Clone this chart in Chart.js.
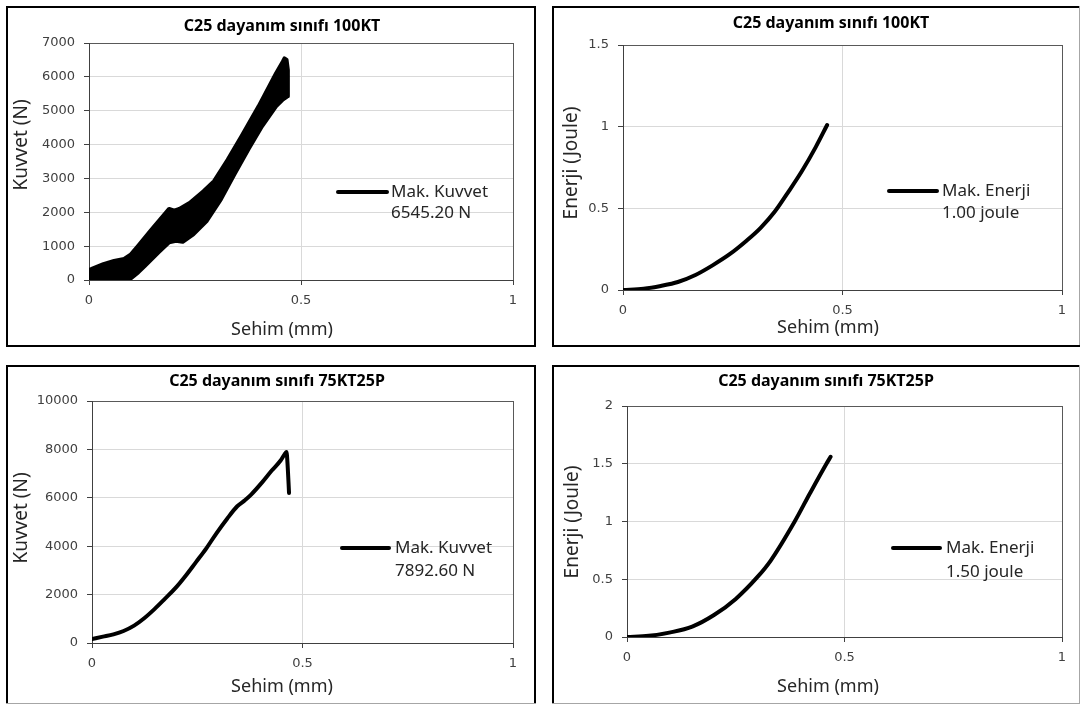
<!DOCTYPE html>
<html>
<head>
<meta charset="utf-8">
<script src="https://cdn.jsdelivr.net/npm/chart.js@4.4.0/dist/chart.umd.min.js"></script>
<style>
  html, body { margin: 0; padding: 0; background: #fff; }
  body { width: 1080px; height: 704px; position: relative; overflow: hidden; }
  canvas { position: absolute; }
</style>
</head>
<body>
<canvas id="kt100Force" width="530" height="341" style="left:6px;top:6px"></canvas>
<canvas id="kt100Energy" width="528" height="341" style="left:552px;top:6px"></canvas>
<canvas id="kt75Force" width="530" height="339" style="left:6px;top:365px"></canvas>
<canvas id="kt75Energy" width="528" height="339" style="left:552px;top:365px"></canvas>
<script>
// Shared x axis (Sehim, mm)
const xTicks = [0, 0.5, 1];

// 100KT force record is very noisy, so it is kept as its upper and lower envelope
const kt100BandUpperX = [0, 0.005, 0.034, 0.059, 0.083, 0.099, 0.116, 0.148, 0.172, 0.189, 0.201, 0.213, 0.238, 0.270, 0.295, 0.327, 0.360, 0.400, 0.441, 0.457, 0.461, 0.466, 0.469];
const kt100BandUpperY = [300, 320, 470, 560, 620, 760, 1010, 1500, 1850, 2100, 2050, 2100, 2280, 2620, 2920, 3550, 4250, 5130, 6100, 6450, 6545, 6500, 6200];
const kt100BandLowerX = [0, 0.083, 0.100, 0.116, 0.132, 0.164, 0.189, 0.205, 0.221, 0.246, 0.278, 0.311, 0.343, 0.376, 0.408, 0.441, 0.457, 0.469];
const kt100BandLowerY = [0, 0, 60, 225, 420, 815, 1110, 1160, 1130, 1350, 1750, 2380, 3120, 3860, 4540, 5130, 5330, 5430];
const kt100ForceTicks = [0, 1000, 2000, 3000, 4000, 5000, 6000, 7000];
const kt100ForceKey = ['Mak. Kuvvet', '6545.20 N'];

// 100KT energy
const kt100EnergyX = [0, 0.047, 0.086, 0.125, 0.165, 0.204, 0.243, 0.282, 0.313, 0.345, 0.376, 0.408, 0.439, 0.465];
const kt100EnergyY = [0, 0.008, 0.025, 0.049, 0.092, 0.151, 0.219, 0.303, 0.379, 0.477, 0.598, 0.73, 0.875, 1.01];
const kt100EnergyTicks = [0, 0.5, 1, 1.5];
const kt100EnergyKey = ['Mak. Enerji', '1.00 joule'];

// 75KT25P force
const kt75ForceX = [0, 0.026, 0.051, 0.075, 0.1, 0.124, 0.149, 0.173, 0.198, 0.223, 0.247, 0.272, 0.296, 0.321, 0.345, 0.362, 0.378, 0.403, 0.427, 0.448, 0.458, 0.462, 0.465, 0.468];
const kt75ForceY = [166, 262, 359, 497, 718, 1022, 1409, 1823, 2265, 2790, 3343, 3923, 4544, 5138, 5650, 5884, 6133, 6616, 7127, 7541, 7817, 7893, 7237, 6200];
const kt75ForceTicks = [0, 2000, 4000, 6000, 8000, 10000];
const kt75ForceKey = ['Mak. Kuvvet', '7892.60 N'];

// 75KT25P energy
const kt75EnergyX = [0, 0.05, 0.1, 0.15, 0.2, 0.25, 0.3, 0.33, 0.3855, 0.42, 0.4585, 0.468];
const kt75EnergyY = [0, 0.01, 0.04, 0.09, 0.19, 0.33, 0.52, 0.66, 1.0, 1.24, 1.5, 1.56];
const kt75EnergyTicks = [0, 0.5, 1, 1.5, 2];
const kt75EnergyKey = ['Mak. Enerji', '1.50 joule'];

const pts = (xs, ys) => xs.map((x, i) => ({ x, y: ys[i] }));

// Excel-like frame, titles and the in-plot key
const excelText = {
  id: 'excelText',
  afterDraw(chart, args, o) {
    const ctx = chart.ctx;
    const w = chart.width, h = chart.height;
    ctx.save();

    // panel frame
    const side = (color, lw, x1, y1, x2, y2) => {
      ctx.strokeStyle = color; ctx.lineWidth = lw;
      ctx.beginPath(); ctx.moveTo(x1, y1); ctx.lineTo(x2, y2); ctx.stroke();
    };
    side('#000', 2, 0, 1, w, 1);
    side('#000', 2, 1, 0, 1, h);
    if (o.cutRight) side('#a6a6a6', 1, w - 0.5, 0, w - 0.5, h);
    else side('#000', 2, w - 1, 0, w - 1, h);
    if (o.cutBottom) side('#a6a6a6', 1, 0, h - 0.5, w, h - 0.5);
    else side('#000', 2, 0, h - 1, w, h - 1);

    ctx.textAlign = 'center';
    ctx.textBaseline = 'middle';
    ctx.fillStyle = '#000';
    ctx.font = 'bold 16px "Noto Sans"';
    ctx.fillText(o.title[0], o.title[1], o.title[2]);

    ctx.fillStyle = '#262626';
    ctx.font = '18px "Noto Sans"';
    ctx.fillText(o.xTitle[0], o.xTitle[1], o.xTitle[2]);

    ctx.save();
    ctx.translate(o.yTitle[1], o.yTitle[2]);
    ctx.rotate(-Math.PI / 2);
    ctx.font = '19px "Noto Sans"';
    ctx.fillText(o.yTitle[0], 0, 0);
    ctx.restore();

    // key: line sample + two text lines
    const k = o.key;
    ctx.strokeStyle = '#000';
    ctx.lineWidth = 4;
    ctx.lineCap = 'round';
    ctx.beginPath(); ctx.moveTo(k.from, k.y); ctx.lineTo(k.to, k.y); ctx.stroke();
    ctx.textAlign = 'left';
    ctx.fillStyle = '#262626';
    ctx.font = '17px "Noto Sans"';
    k.lines.forEach((t, i) => ctx.fillText(t, k.textX, k.y + i * k.gap));
    ctx.restore();
  }
};

const makeChart = (id, datasets, yTicks, padding, text) => {
  const yMax = yTicks[yTicks.length - 1];
  new Chart(document.getElementById(id), {
    type: 'scatter',
    data: { datasets },
    options: {
      responsive: false,
      animation: false,
      events: [],
      layout: { padding },
      plugins: { legend: { display: false }, tooltip: { enabled: false }, excelText: text },
      scales: {
        x: {
          type: 'linear', min: 0, max: 1,
          afterBuildTicks: s => { s.ticks = xTicks.map(v => ({ value: v })); },
          afterFit: s => { s.height = 32; },
          grid: { color: c => c.tick && c.tick.value === 1 ? '#595959' : '#d9d9d9', tickColor: '#404040', tickLength: 5 },
          border: { color: '#404040' },
          ticks: { font: { family: 'DejaVu Sans', size: 13 }, color: '#404040', padding: 8, maxRotation: 0, autoSkip: false, callback: v => String(v) }
        },
        y: {
          type: 'linear', min: 0, max: yMax,
          afterBuildTicks: s => { s.ticks = yTicks.map(v => ({ value: v })); },
          afterFit: s => { s.width = 60; },
          grid: { color: c => c.tick && c.tick.value === yMax ? '#595959' : '#d9d9d9', tickColor: '#404040', tickLength: 5 },
          border: { color: '#404040' },
          ticks: { font: { family: 'DejaVu Sans', size: 13 }, color: '#404040', padding: 9, autoSkip: false, callback: v => String(v) }
        }
      }
    },
    plugins: [excelText]
  });
};

const curve = (data) => ({
  data, showLine: true, pointRadius: 0, borderColor: '#000', borderWidth: 4,
  cubicInterpolationMode: 'monotone', borderCapStyle: 'round', borderJoinStyle: 'round'
});

// 100KT force: closed band (upper envelope out, lower envelope back)
const kt100Band = pts(kt100BandUpperX, kt100BandUpperY)
  .concat(pts(kt100BandLowerX, kt100BandLowerY).reverse());

makeChart('kt100Force',
  [{ data: kt100Band, showLine: true, pointRadius: 0, borderColor: '#000', borderWidth: 4, backgroundColor: '#000', fill: 'shape', borderJoinStyle: 'round' }],
  kt100ForceTicks,
  { left: 23, right: 23, top: 37, bottom: 35 },
  {
    title: ['C25 dayanım sınıfı 100KT', 276, 20],
    yTitle: ['Kuvvet (N)', 16, 139],
    xTitle: ['Sehim (mm)', 276, 324],
    key: { from: 332, to: 381, y: 186, textX: 385, gap: 21, lines: kt100ForceKey }
  });

makeChart('kt100Energy',
  [curve(pts(kt100EnergyX, kt100EnergyY))],
  kt100EnergyTicks,
  { left: 11, right: 18, top: 39, bottom: 25 },
  {
    cutRight: true,
    title: ['C25 dayanım sınıfı 100KT', 279, 17],
    yTitle: ['Enerji (Joule)', 20, 157],
    xTitle: ['Sehim (mm)', 276, 322],
    key: { from: 337, to: 385, y: 185, textX: 390, gap: 22, lines: kt100EnergyKey }
  });

makeChart('kt75Force',
  [curve(pts(kt75ForceX, kt75ForceY))],
  kt75ForceTicks,
  { left: 26, right: 23, top: 36, bottom: 29 },
  {
    cutBottom: true,
    title: ['C25 dayanım sınıfı 75KT25P', 271, 16],
    yTitle: ['Kuvvet (N)', 16, 153],
    xTitle: ['Sehim (mm)', 276, 322],
    key: { from: 336, to: 383, y: 183, textX: 389, gap: 23, lines: kt75ForceKey }
  });

makeChart('kt75Energy',
  [curve(pts(kt75EnergyX, kt75EnergyY))],
  kt75EnergyTicks,
  { left: 15, right: 18, top: 41, bottom: 35 },
  {
    cutRight: true, cutBottom: true,
    title: ['C25 dayanım sınıfı 75KT25P', 274, 16],
    yTitle: ['Enerji (Joule)', 21, 157],
    xTitle: ['Sehim (mm)', 276, 322],
    key: { from: 341, to: 388, y: 183, textX: 394, gap: 24, lines: kt75EnergyKey }
  });
</script>
</body>
</html>
